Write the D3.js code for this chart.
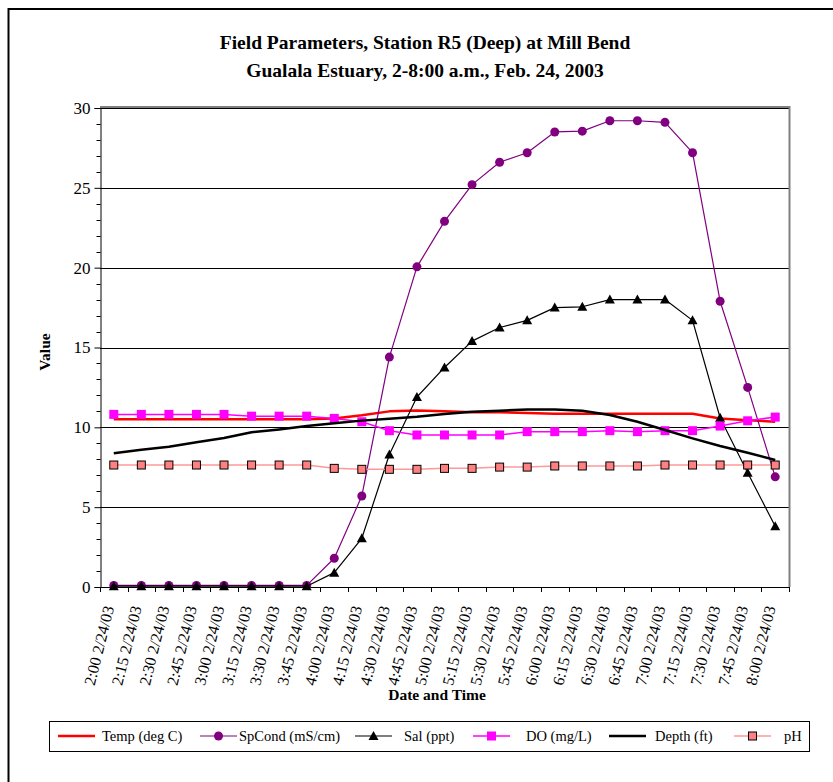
<!DOCTYPE html>
<html>
    <head>
        <style>
body{
    margin: 0;
    background: #fff;
}
svg text{
    font-family: "Liberation Serif", "Times New Roman", serif;
}
        </style>
    </head>
    <body>
        <svg id="chart"></svg>
        <script src="https://cdnjs.cloudflare.com/ajax/libs/d3/7.8.5/d3.min.js"></script>
        <script>
const times = ["2:00","2:15","2:30","2:45","3:00","3:15","3:30","3:45","4:00","4:15","4:30","4:45",
    "5:00","5:15","5:30","5:45","6:00","6:15","6:30","6:45","7:00","7:15","7:30","7:45","8:00"];
const categories = times.map(t => t + " 2/24/03");
const yTicks = [0, 5, 10, 15, 20, 25, 30];

const temp   = [10.5,10.5,10.5,10.5,10.5,10.5,10.5,10.5,10.55,10.75,11.0,11.05,11.0,10.95,10.95,10.9,10.85,10.85,10.85,10.85,10.85,10.85,10.55,10.45,10.35];
const spCond = [0.1,0.1,0.1,0.1,0.1,0.1,0.1,0.1,1.8,5.7,14.4,20.05,22.9,25.2,26.6,27.2,28.5,28.55,29.2,29.2,29.1,27.2,17.9,12.5,6.9];
const sal    = [0.05,0.05,0.05,0.05,0.05,0.05,0.05,0.05,0.9,3.05,8.3,11.9,13.75,15.4,16.25,16.7,17.5,17.55,18.0,18.0,18.0,16.7,10.6,7.15,3.8];
const doMg   = [10.81,10.81,10.81,10.81,10.81,10.7,10.7,10.7,10.56,10.35,9.79,9.52,9.52,9.52,9.52,9.73,9.73,9.73,9.79,9.73,9.79,9.79,10.08,10.41,10.64];
const depth  = [8.37,8.6,8.78,9.06,9.33,9.69,9.87,10.08,10.25,10.42,10.54,10.66,10.83,10.98,11.04,11.12,11.12,11.04,10.77,10.35,9.83,9.31,8.83,8.41,7.95];
const ph     = [7.64,7.64,7.64,7.64,7.64,7.64,7.64,7.64,7.43,7.37,7.37,7.37,7.43,7.43,7.51,7.51,7.58,7.58,7.58,7.58,7.64,7.64,7.64,7.64,7.64];

const series = [
    {name: "Temp (deg C)",    values: temp,   color: "#ff0000", width: 2.5, marker: null},
    {name: "SpCond (mS/cm)",  values: spCond, color: "#800080", width: 1.2, marker: "circle"},
    {name: "Sal (ppt)",       values: sal,    color: "#000000", width: 1.2, marker: "triangle"},
    {name: "DO (mg/L)",       values: doMg,   color: "#ff00ff", width: 1.5, marker: "square"},
    {name: "Depth (ft)",      values: depth,  color: "#000000", width: 2.5, marker: null},
    {name: "pH",              values: ph,     color: "#ff9999", width: 1.5, marker: "phsquare"}
];

const width = 833, height = 782;
const plot = {left: 100, right: 789, top: 108, bottom: 587};

const svg = d3.select("#chart").attr("width", width).attr("height", height);

// outer chart border
svg.append("rect")
    .attr("x", 8.5).attr("y", 9)
    .attr("width", 900).attr("height", 900)
    .attr("fill", "none").attr("stroke", "#000").attr("stroke-width", 2);

const x = d3.scaleBand().domain(categories).range([plot.left, plot.right]);
const y = d3.scaleLinear().domain([0, 30]).range([plot.bottom, plot.top]);
const cx = d => x(d) + x.bandwidth() / 2;

// title
const title = svg.append("text")
    .attr("text-anchor", "middle")
    .style("font-weight", "bold").style("font-size", "19.5px");
title.append("tspan").attr("x", 425).attr("y", 49).text("Field Parameters, Station R5 (Deep) at Mill Bend");
title.append("tspan").attr("x", 425).attr("y", 77).text("Gualala Estuary, 2-8:00 a.m., Feb. 24, 2003");

// gridlines
svg.append("g")
    .selectAll("line")
    .data(yTicks.filter(v => v > 0))
    .enter().append("line")
    .attr("x1", plot.left).attr("x2", plot.right)
    .attr("y1", d => Math.round(y(d)) + 0.5).attr("y2", d => Math.round(y(d)) + 0.5)
    .attr("stroke", "#000").attr("stroke-width", 1);

// plot area border (gray)
svg.append("path")
    .attr("d", `M${plot.left},${plot.top - 1}H${plot.right + 0.5}V${plot.bottom}`)
    .attr("fill", "none").attr("stroke", "#808080").attr("stroke-width", 2);

// y axis
const yAxis = svg.append("g")
    .attr("transform", `translate(${plot.left + 0.5},0)`)
    .call(d3.axisLeft(y).tickValues(yTicks).tickSize(6).tickPadding(4))
    .call(g => g.select(".domain").attr("stroke", "#000"));
yAxis.selectAll("text").style("font-size", "17px").attr("fill", "#000")
    .style("font-family", '"Liberation Serif", serif');
yAxis.append("g")
    .selectAll("line")
    .data(d3.range(0, 31).filter(v => v % 5 !== 0))
    .enter().append("line")
    .attr("x1", -4).attr("x2", 0)
    .attr("y1", d => Math.round(y(d)) + 0.5).attr("y2", d => Math.round(y(d)) + 0.5)
    .attr("stroke", "#000");

// x axis line and ticks at category boundaries
svg.append("line")
    .attr("x1", plot.left).attr("x2", plot.right)
    .attr("y1", plot.bottom + 0.5).attr("y2", plot.bottom + 0.5)
    .attr("stroke", "#000");
svg.append("g")
    .selectAll("line")
    .data(categories.concat([null]))
    .enter().append("line")
    .attr("x1", (d, i) => Math.round(plot.left + i * x.bandwidth()) + 0.5)
    .attr("x2", (d, i) => Math.round(plot.left + i * x.bandwidth()) + 0.5)
    .attr("y1", plot.bottom).attr("y2", plot.bottom + 5)
    .attr("stroke", "#000");

// x labels, slanted
svg.append("g")
    .selectAll("text")
    .data(categories)
    .enter().append("text")
    .attr("transform", d => `translate(${cx(d) - 5},${plot.bottom + 19}) rotate(-76)`)
    .attr("text-anchor", "end")
    .attr("dy", "0.35em")
    .style("font-size", "16px")
    .text(d => d);

// axis titles
svg.append("text")
    .attr("transform", "translate(50,352) rotate(-90)")
    .attr("text-anchor", "middle")
    .style("font-weight", "bold").style("font-size", "15.5px")
    .text("Value");
svg.append("text")
    .attr("x", 437).attr("y", 700)
    .attr("text-anchor", "middle")
    .style("font-weight", "bold").style("font-size", "15.5px")
    .text("Date and Time");

function drawMarker(sel, type, color) {
    if (type === "circle") {
        sel.append("circle").attr("r", 4.5).attr("fill", color);
    } else if (type === "triangle") {
        sel.append("path").attr("d", "M0,-5L5,4L-5,4Z").attr("fill", color);
    } else if (type === "square") {
        sel.append("rect").attr("x", -4.5).attr("y", -4.5).attr("width", 9).attr("height", 9).attr("fill", color);
    } else if (type === "phsquare") {
        sel.append("rect").attr("x", -4).attr("y", -4).attr("width", 8).attr("height", 8)
            .attr("fill", "#ff8080").attr("stroke", "#000").attr("stroke-width", 1);
    }
}

const line = d3.line().x((d, i) => cx(categories[i])).y(d => y(d));

series.forEach(s => {
    svg.append("path")
        .datum(s.values)
        .attr("d", line)
        .attr("fill", "none")
        .attr("stroke", s.color)
        .attr("stroke-width", s.width)
        .attr("stroke-linejoin", "round");
    if (s.marker) {
        svg.append("g")
            .selectAll("g")
            .data(s.values)
            .enter().append("g")
            .attr("transform", (d, i) => `translate(${cx(categories[i])},${y(d)})`)
            .each(function () { drawMarker(d3.select(this), s.marker, s.color); });
    }
});

// legend
const legend = svg.append("g");
legend.append("rect")
    .attr("x", 49.5).attr("y", 721.5).attr("width", 760).attr("height", 30)
    .attr("fill", "#fff").attr("stroke", "#000").attr("stroke-width", 1);
const legendX = [58, 200, 355, 473, 609, 734];
const legendTextX = [102, 239, 404, 526, 655, 784];
series.forEach((s, i) => {
    const g = legend.append("g").attr("transform", `translate(${legendX[i]},736)`);
    g.append("line").attr("x1", 0).attr("x2", 37).attr("y1", 0).attr("y2", 0)
        .attr("stroke", s.color).attr("stroke-width", s.width);
    if (s.marker) {
        const m = g.append("g").attr("transform", "translate(18.5,0)");
        drawMarker(m, s.marker, s.color);
    }
    legend.append("text")
        .attr("x", legendTextX[i]).attr("y", 736).attr("dy", "0.35em")
        .style("font-size", "14.5px")
        .text(s.name);
});
        </script>
    </body>
</html>
